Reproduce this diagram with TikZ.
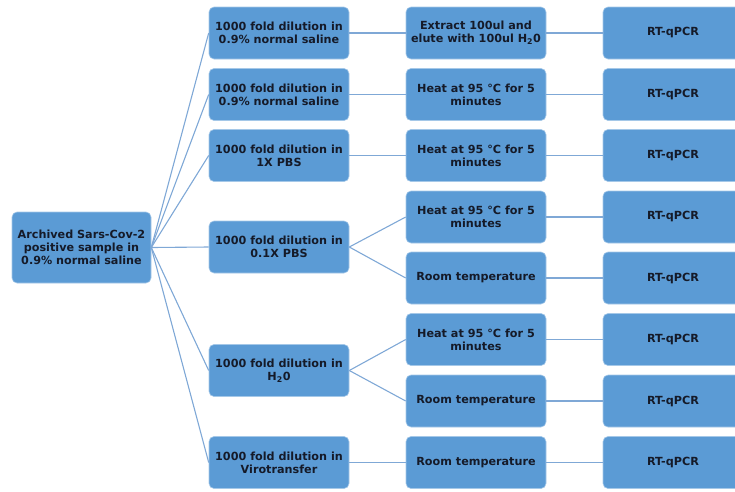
\documentclass[tikz,border=0pt]{standalone}
\usepackage{fontspec}
\setmainfont{DejaVu Sans}
\definecolor{boxblue}{HTML}{5B9BD5}
\definecolor{linkblue}{HTML}{7FA8D6}
\definecolor{txt}{HTML}{151A28}
\tikzset{
  box/.style={rectangle, rounded corners=5pt, fill=boxblue, draw=boxblue!55!white, line width=0.6pt,
    minimum width=140pt, minimum height=52pt, align=center, inner sep=1pt,
    font=\fontsize{11.2}{12.8}\selectfont\bfseries, text=txt},
  link/.style={draw=linkblue, line width=1.1pt}
}
\begin{document}
\begin{tikzpicture}[x=1pt,y=-1pt]
\useasboundingbox (0,0) rectangle (735,491);
\clip (0,0) rectangle (735,491);
% root
\node[box, minimum width=139pt, minimum height=71pt] (root) at (81.5,247.5) {Archived Sars-Cov-2\\positive sample in\\0.9\% normal saline};
% column 2
\node[box] (a1) at (279,33) {1000 fold dilution in\\0.9\% normal saline};
\node[box] (a2) at (279,94.5) {1000 fold dilution in\\0.9\% normal saline};
\node[box] (a3) at (279,155.5) {1000 fold dilution in\\1X PBS};
\node[box] (a4) at (279,247) {1000 fold dilution in\\0.1X PBS};
\node[box] (a5) at (279,370.5) {1000 fold dilution in\\H\textsubscript{2}0};
\node[box] (a6) at (279,462.5) {1000 fold dilution in\\Virotransfer};
% column 3
\node[box] (b1) at (476,33) {Extract 100ul and\\elute with 100ul H\textsubscript{2}0};
\node[box] (b2) at (476,94.5) {Heat at 95 °C for 5\\minutes};
\node[box] (b3) at (476,155.5) {Heat at 95 °C for 5\\minutes};
\node[box] (b4) at (476,217) {Heat at 95 °C for 5\\minutes};
\node[box] (b5) at (476,278) {Room temperature};
\node[box] (b6) at (476,339.5) {Heat at 95 °C for 5\\minutes};
\node[box] (b7) at (476,401) {Room temperature};
\node[box] (b8) at (476,462.5) {Room temperature};
% column 4
\foreach \i/\y in {1/33,2/94.5,3/155.5,4/217,5/278,6/339.5,7/401,8/462.5}{
  \node[box] (c\i) at (673,\y) {RT-qPCR};
}
% links
\foreach \i in {1,...,6}{ \draw[link] (root.east) -- (a\i.west); }
\draw[link] (a1.east) -- (b1.west);
\draw[link] (a2.east) -- (b2.west);
\draw[link] (a3.east) -- (b3.west);
\draw[link] (a4.east) -- (b4.west);
\draw[link] (a4.east) -- (b5.west);
\draw[link] (a5.east) -- (b6.west);
\draw[link] (a5.east) -- (b7.west);
\draw[link] (a6.east) -- (b8.west);
\foreach \i in {1,...,8}{ \draw[link] (b\i.east) -- (c\i.west); }
\end{tikzpicture}
\end{document}
